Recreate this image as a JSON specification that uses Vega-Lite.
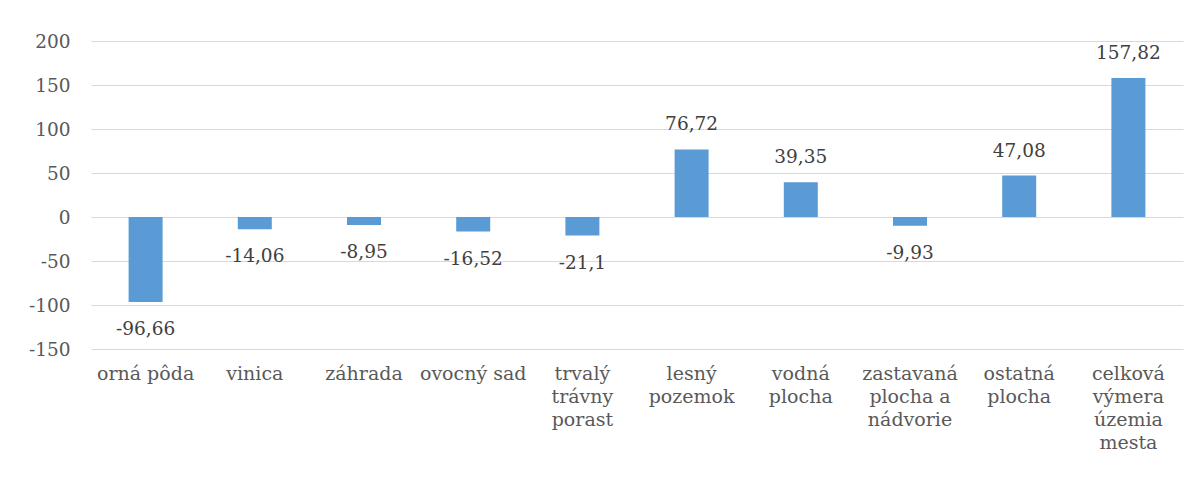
{
  "$schema": "https://vega.github.io/schema/vega-lite/v6.json",
  "width": 1092,
  "height": 308,
  "autosize": "none",
  "padding": {"left": 91, "top": 41, "right": 19, "bottom": 134},
  "background": "white",
  "config": {
    "view": {"stroke": null},
    "font": "DejaVu Serif"
  },
  "data": {
    "values": [
      {"kategoria": "orná pôda", "hodnota": -96.66},
      {"kategoria": "vinica", "hodnota": -14.06},
      {"kategoria": "záhrada", "hodnota": -8.95},
      {"kategoria": "ovocný sad", "hodnota": -16.52},
      {"kategoria": "trvalý trávny porast", "hodnota": -21.1},
      {"kategoria": "lesný pozemok", "hodnota": 76.72},
      {"kategoria": "vodná plocha", "hodnota": 39.35},
      {"kategoria": "zastavaná plocha a nádvorie", "hodnota": -9.93},
      {"kategoria": "ostatná plocha", "hodnota": 47.08},
      {"kategoria": "celková výmera územia mesta", "hodnota": 157.82}
    ]
  },
  "transform": [
    {"calculate": "replace(toString(datum.hodnota), '.', ',')", "as": "popis"}
  ],
  "encoding": {
    "x": {
      "field": "kategoria",
      "type": "nominal",
      "sort": null,
      "title": null,
      "axis": {
        "labelAngle": 0,
        "ticks": false,
        "domain": false,
        "labelFont": "DejaVu Serif",
        "labelFontSize": 19,
        "labelColor": "#595959",
        "labelPadding": 15,
        "labelBaseline": "top",
        "labelLineHeight": 23,
        "labelLimit": 0,
        "labelOverlap": false,
        "labelExpr": "datum.label == 'zastavaná plocha a nádvorie' ? ['zastavaná', 'plocha a', 'nádvorie'] : (indexof(['orná pôda', 'ovocný sad'], datum.label) >= 0 ? datum.label : split(datum.label, ' '))"
      }
    },
    "y": {
      "field": "hodnota",
      "type": "quantitative",
      "title": null,
      "scale": {"domain": [-150, 200], "nice": false, "zero": false},
      "axis": {
        "values": [-150, -100, -50, 0, 50, 100, 150, 200],
        "ticks": false,
        "domain": false,
        "grid": true,
        "gridColor": "#D9D9D9",
        "gridWidth": 1,
        "labelFont": "DejaVu Serif",
        "labelFontSize": 18.5,
        "labelColor": "#595959",
        "labelPadding": 21,
        "labelExpr": "'' + datum.value"
      }
    }
  },
  "layer": [
    {"mark": {"type": "bar", "size": 34, "color": "#5B9BD5"}},
    {
      "transform": [{"filter": "datum.hodnota >= 0"}],
      "mark": {"type": "text", "font": "DejaVu Serif", "fontSize": 18.5, "color": "#404040", "baseline": "middle", "dy": -25},
      "encoding": {"text": {"field": "popis"}}
    },
    {
      "transform": [{"filter": "datum.hodnota < 0"}],
      "mark": {"type": "text", "font": "DejaVu Serif", "fontSize": 18.5, "color": "#404040", "baseline": "middle", "dy": 27},
      "encoding": {"text": {"field": "popis"}}
    }
  ]
}
